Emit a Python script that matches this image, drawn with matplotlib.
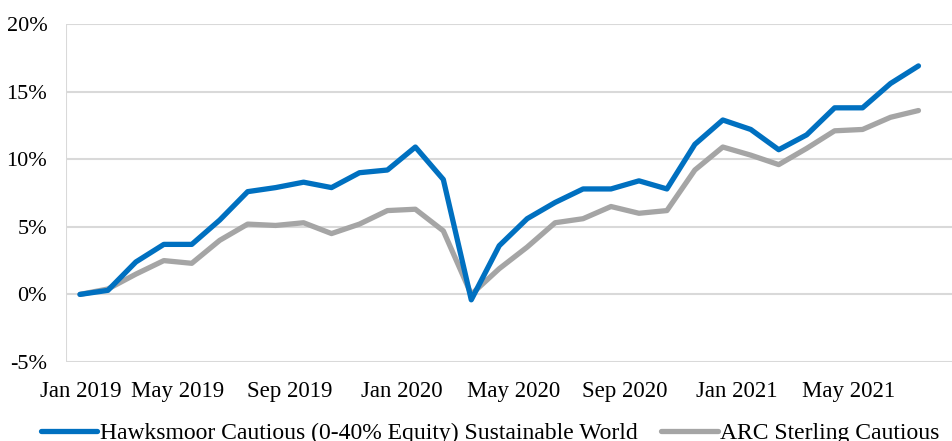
import numpy as np
import matplotlib
matplotlib.use("Agg")
import matplotlib.pyplot as plt

# Monthly cumulative performance (%), Jan 2019 - Jul 2021
months = ["Jan 2019", "Feb 2019", "Mar 2019", "Apr 2019", "May 2019", "Jun 2019", "Jul 2019", "Aug 2019",
          "Sep 2019", "Oct 2019", "Nov 2019", "Dec 2019", "Jan 2020", "Feb 2020", "Mar 2020", "Apr 2020",
          "May 2020", "Jun 2020", "Jul 2020", "Aug 2020", "Sep 2020", "Oct 2020", "Nov 2020", "Dec 2020",
          "Jan 2021", "Feb 2021", "Mar 2021", "Apr 2021", "May 2021", "Jun 2021", "Jul 2021"]
hawksmoor = [0.0, 0.3, 2.4, 3.7, 3.7, 5.5, 7.6, 7.9, 8.3, 7.9, 9.0, 9.2, 10.9, 8.5, -0.4, 3.6,
             5.6, 6.8, 7.8, 7.8, 8.4, 7.8, 11.1, 12.9, 12.2, 10.7, 11.8, 13.8, 13.8, 15.6, 16.9]
arc = [0.0, 0.4, 1.5, 2.5, 2.3, 4.0, 5.2, 5.1, 5.3, 4.5, 5.2, 6.2, 6.3, 4.7, 0.0, 1.9,
       3.5, 5.3, 5.6, 6.5, 6.0, 6.2, 9.2, 10.9, 10.3, 9.6, 10.8, 12.1, 12.2, 13.1, 13.6]
tick_labels = ["Jan 2019", "May 2019", "Sep 2019", "Jan 2020", "May 2020", "Sep 2020", "Jan 2021", "May 2021"]
series_names = ["Hawksmoor Cautious (0-40% Equity) Sustainable World", "ARC Sterling Cautious"]

plt.rcParams['font.family'] = ['Liberation Serif', 'DejaVu Serif']

fig = plt.figure(figsize=(9.52, 4.41), dpi=100)
ax = fig.add_axes([66 / 952, 79 / 441, 886 / 952, 338 / 441])

x = np.arange(len(months))
ax.plot(x, hawksmoor, color="#0070C0", lw=3.8, solid_capstyle="round", label=series_names[0], zorder=3)
ax.plot(x, arc, color="#A5A5A5", lw=3.8, solid_capstyle="round", label=series_names[1], zorder=2)

ax.set_xlim(-0.5, 31.2)
ax.set_ylim(-5, 20)
ax.set_yticks([-5, 0, 5, 10, 15, 20])
ax.set_yticklabels([f"{v}%" for v in [-5, 0, 5, 10, 15, 20]])

# labels: first one sits at the first point, rest at the grid lines
label_pos = [0.03] + [3.5 + 4 * i for i in range(len(tick_labels) - 1)]
ax.set_xticks(label_pos)
ax.set_xticklabels(tick_labels)
ax.set_xticks([-0.5 + 4 * i for i in range(8)], minor=True)
ax.tick_params(axis="x", which="both", length=0, pad=13.5, labelsize=16.5)
ax.tick_params(axis="y", length=0, pad=13.5, labelsize=16)

ax.grid(False)
ax.grid(axis="y", color="#D9D9D9", lw=1.5)
ax.grid(axis="x", which="minor", color="#D9D9D9", lw=1.5)
for s in ax.spines.values():
    s.set_visible(False)

fig.legend(loc="center", bbox_to_anchor=(490 / 952, 1 - 433 / 441), ncol=2, frameon=False,
           fontsize=17, handlelength=2.4, handletextpad=0.1, columnspacing=1.0)

fig.savefig("out.png", dpi=100)
